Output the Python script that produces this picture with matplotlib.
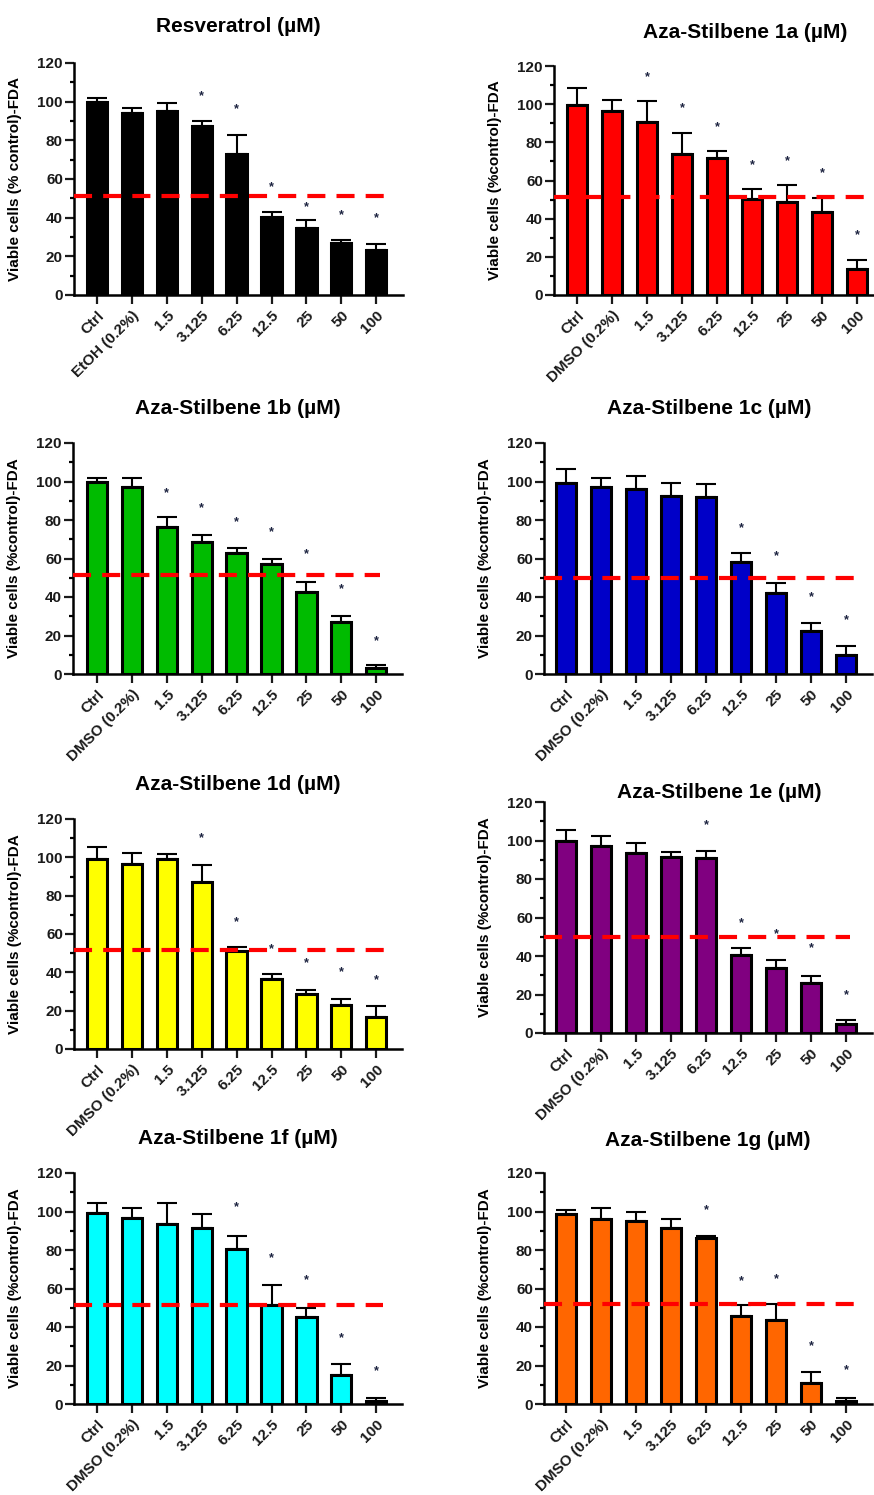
import numpy as np
import matplotlib
matplotlib.use("Agg")
import matplotlib.pyplot as plt
from matplotlib.ticker import MultipleLocator

plt.rcParams['font.family'] = ['Liberation Sans', 'DejaVu Sans']
plt.rcParams['font.weight'] = 'bold'
plt.rcParams['lines.scale_dashes'] = False

nan = np.nan

# x categories
labels_resv = ["Ctrl", "EtOH (0.2%)", "1.5", "3.125", "6.25", "12.5", "25", "50", "100"]
labels_aza = ["Ctrl", "DMSO (0.2%)", "1.5", "3.125", "6.25", "12.5", "25", "50", "100"]

# mean viability, upper error, position of the significance star
mean_resv = [99.7, 94.0, 95.0, 87.2, 73.0, 40.2, 34.5, 27.1, 23.3]
err_resv = [2.3, 2.7, 4.5, 2.6, 9.9, 2.8, 4.3, 1.4, 3.0]
star_resv = [nan, nan, nan, 103, 96, 56, 45.3, 41.5, 39.7]

mean_1a = [99.6, 96.4, 90.8, 73.7, 71.6, 50.3, 48.9, 43.3, 13.4]
err_1a = [8.7, 5.8, 10.9, 11.3, 4.0, 5.1, 8.6, 7.4, 4.9]
star_1a = [nan, nan, 114, 97.8, 88.2, 68, 69.9, 64.1, 31.4]

mean_1b = [99.5, 97.0, 76.3, 68.5, 62.7, 57.2, 42.8, 26.9, 3.0]
err_1b = [2.2, 4.8, 5.0, 3.8, 2.6, 2.8, 5.0, 3.4, 1.5]
star_1b = [nan, nan, 94, 86, 79, 73.5, 62, 44, 17]

mean_1c = [99.0, 97.0, 96.2, 92.5, 91.9, 58.0, 42.0, 22.2, 9.7]
err_1c = [7.4, 4.6, 6.4, 6.5, 6.7, 4.6, 5.5, 4.5, 4.9]
star_1c = [nan, nan, nan, nan, nan, 75.7, 61, 40, 28]

mean_1d = [99.0, 96.5, 99.0, 87.0, 51.0, 36.5, 28.6, 23.0, 16.7]
err_1d = [6.6, 5.7, 3.0, 9.0, 2.0, 2.5, 2.4, 3.0, 5.9]
star_1d = [nan, nan, nan, 110, 66, 52, 45, 40, 36]

mean_1e = [99.6, 97.0, 93.5, 91.4, 91.0, 40.7, 33.8, 26.0, 4.8]
err_1e = [6.0, 5.3, 5.4, 2.6, 3.4, 3.5, 4.2, 3.6, 2.2]
star_1e = [nan, nan, nan, nan, 108, 57, 51.5, 44, 19.5]

mean_1f = [99.0, 96.5, 93.6, 91.3, 80.4, 51.5, 45.0, 15.0, 1.7]
err_1f = [5.2, 5.1, 10.9, 7.3, 7.1, 10.5, 5.0, 5.8, 1.3]
star_1f = [nan, nan, nan, nan, 102.3, 75.7, 64.5, 34, 17]

mean_1g = [98.8, 96.2, 95.3, 91.3, 86.1, 45.7, 43.7, 10.7, 1.7]
err_1g = [2.1, 5.5, 4.7, 4.9, 1.2, 5.6, 8.1, 5.9, 1.3]
star_1g = [nan, nan, nan, nan, 100.5, 64, 65, 30, 17.7]

# 50 % reference line per panel
half_line = [51, 51.5, 51.5, 49.7, 51.7, 49.8, 51.5, 51.8]

titles = ["Resveratrol (µM)", "Aza-Stilbene 1a (µM)", "Aza-Stilbene 1b (µM)",
          "Aza-Stilbene 1c (µM)", "Aza-Stilbene 1d (µM)", "Aza-Stilbene 1e (µM)",
          "Aza-Stilbene 1f (µM)", "Aza-Stilbene 1g (µM)"]
colors = ["#000000", "#FF0000", "#00BB00", "#0000C8",
          "#FFFF00", "#800080", "#00FFFF", "#FF6600"]
means = [mean_resv, mean_1a, mean_1b, mean_1c, mean_1d, mean_1e, mean_1f, mean_1g]
errs = [err_resv, err_1a, err_1b, err_1c, err_1d, err_1e, err_1f, err_1g]
stars = [star_resv, star_1a, star_1b, star_1c, star_1d, star_1e, star_1f, star_1g]
ylabels = ["Viable cells (% control)-FDA"] + ["Viable cells (%control)-FDA"] * 7

W, H = 874, 1495
fig = plt.figure(figsize=(W / 100, H / 100), dpi=100)

# layout in pixels: axis left, right, top (y=120), bottom (y=0), first tick x, tick spacing
boxes = [
    (74, 403, 63, 295, 97, 34.9),
    (554, 874, 66, 295, 577, 35.0),
    (73, 402, 443, 674, 97, 34.9),
    (544, 872, 443, 674, 566, 35.0),
    (74, 402, 819, 1049, 97, 34.9),
    (544, 872, 802, 1033, 566, 35.0),
    (74, 402, 1173, 1404, 97, 34.9),
    (544, 872, 1173, 1404, 566, 35.0),
]
title_pos = [(238, 27), (745, 33), (238, 408), (709, 408),
             (238, 785), (719, 792), (238, 1138), (708, 1141)]
line_end = [8.3, 9.0, 8.1, 8.23, 8.3, 8.1, 8.2, 8.23]

for i in range(8):
    l, r, t, b, x0, dx = boxes[i]
    ax = fig.add_axes([l / W, 1 - b / H, (r - l) / W, (b - t) / H])
    labels = labels_resv if i == 0 else labels_aza
    x = np.arange(len(labels))
    ax.bar(x, means[i], width=0.58, color=colors[i], edgecolor='black',
           linewidth=2.2, zorder=2)
    ax.errorbar(x, means[i], yerr=[np.zeros(len(x)), errs[i]], fmt='none',
                ecolor='black', elinewidth=1.5, capsize=7, capthick=1.5, zorder=3)
    for xi, s in zip(x, stars[i]):
        if not np.isnan(s):
            ax.text(xi, s, "*", ha='center', va='center', fontsize=9,
                    color='#1c2340', zorder=5)
    xl = (l - x0) / dx
    xr = (r - x0) / dx
    ax.plot([xl, line_end[i]], [half_line[i], half_line[i]], color='#FF0000',
            lw=3, dashes=(13, 8), zorder=4, dash_capstyle='butt', clip_on=False)
    ax.set_xlim(xl, xr)
    ax.set_ylim(0, 120)
    ax.yaxis.set_major_locator(MultipleLocator(20))
    ax.yaxis.set_minor_locator(MultipleLocator(10))
    ax.set_xticks(x)
    ax.set_xticklabels(labels, rotation=45, ha='right', rotation_mode='anchor',
                       fontsize=11)
    for lab in ax.get_yticklabels():
        lab.set_fontsize(11)
    ax.tick_params(axis='both', which='major', length=6.5, width=1.6, pad=1.5,
                   colors='#1a1a1a')
    ax.tick_params(axis='y', which='minor', length=3, width=1.6)
    ax.tick_params(axis='x', pad=3)
    for sp in ['top', 'right']:
        ax.spines[sp].set_visible(False)
    for sp in ['left', 'bottom']:
        ax.spines[sp].set_linewidth(1.8)
    ax.set_ylabel(ylabels[i], fontsize=11, fontweight='bold')
    ax.yaxis.set_label_coords(-52 / (r - l), 0.5)
    tx, ty = title_pos[i]
    fig.text(tx / W, 1 - ty / H, titles[i], ha='center', va='center',
             fontsize=15, fontweight='bold')

fig.savefig("out.png", dpi=100)
